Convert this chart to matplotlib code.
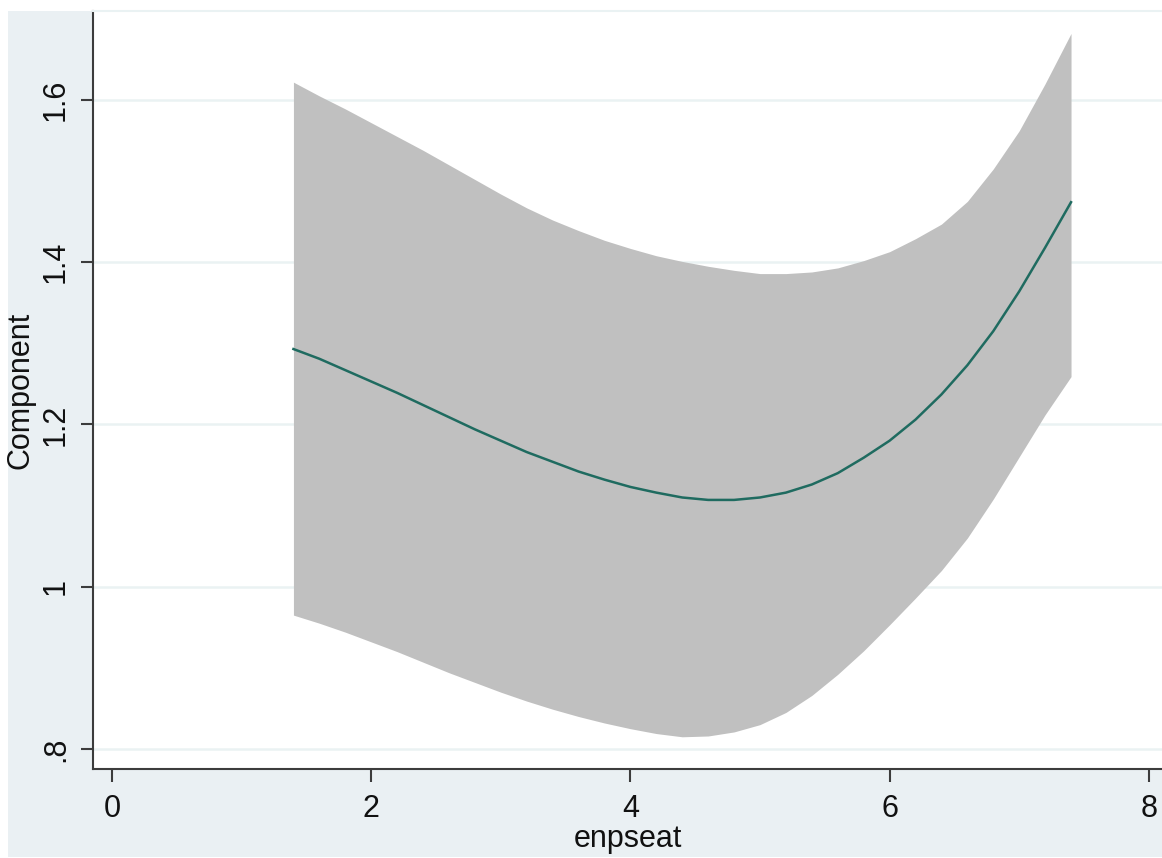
import numpy as np
import matplotlib
matplotlib.use('Agg')
import matplotlib.pyplot as plt
from matplotlib.patches import Rectangle

# values
enpseat = [1.4, 1.6, 1.8, 2.0, 2.2, 2.4, 2.6, 2.8, 3.0, 3.2, 3.4,
           3.6, 3.8, 4.0, 4.2, 4.4, 4.6, 4.8, 5.0, 5.2, 5.4,
           5.6, 5.8, 6.0, 6.2, 6.4, 6.6, 6.8, 7.0, 7.2, 7.4]
component = [1.293, 1.281, 1.267, 1.253, 1.239, 1.224, 1.209, 1.194, 1.180, 1.166, 1.154,
             1.142, 1.132, 1.123, 1.116, 1.110, 1.107, 1.107, 1.110, 1.116, 1.126,
             1.140, 1.159, 1.180, 1.206, 1.237, 1.273, 1.315, 1.364, 1.418, 1.474]
upper = [1.622, 1.605, 1.589, 1.572, 1.555, 1.538, 1.520, 1.502, 1.484, 1.467, 1.452,
         1.439, 1.427, 1.417, 1.408, 1.401, 1.395, 1.390, 1.386, 1.386, 1.388,
         1.393, 1.402, 1.413, 1.429, 1.447, 1.475, 1.515, 1.562, 1.620, 1.682]
lower = [0.965, 0.955, 0.944, 0.932, 0.920, 0.907, 0.894, 0.882, 0.870, 0.859, 0.849,
         0.840, 0.832, 0.825, 0.819, 0.815, 0.816, 0.821, 0.830, 0.845, 0.866,
         0.892, 0.921, 0.953, 0.986, 1.020, 1.060, 1.108, 1.160, 1.212, 1.259]
xticks = [0, 2, 4, 6, 8]
yticks = [0.8, 1.0, 1.2, 1.4, 1.6]
ylabels = ['.8', '1', '1.2', '1.4', '1.6']

plt.rcParams['font.family'] = ['Liberation Sans', 'DejaVu Sans']

W, H = 1162, 858
fig = plt.figure(figsize=(W / 100, H / 100), dpi=100, facecolor='white')
# stata-like light blue graph region, kept behind the axes
fig.patches.append(Rectangle((8 / W, 1 / H), (W - 8) / W, 846 / H,
                             transform=fig.transFigure, facecolor='#EAF0F3',
                             edgecolor='none', zorder=-10))

ax = fig.add_axes([93 / W, 89 / H, (W - 93) / W, 758 / H])
ax.set_zorder(5)
ax.set_facecolor('white')

ax.fill_between(enpseat, lower, upper, color='#C0C0C0', linewidth=0, zorder=2)
ax.plot(enpseat, component, color='#1F6B60', linewidth=1.8, zorder=3)

ax.set_xlim(-0.1466, 8.102)
ax.set_ylim(0.7753, 1.7097)
ax.set_xticks(xticks)
ax.set_yticks(yticks)
ax.set_yticklabels(ylabels, rotation=90, va='center')
ax.grid(axis='y', color='#EAF2F3', linewidth=1.8, zorder=1)
ax.set_axisbelow(True)

for s in ['left', 'bottom']:
    ax.spines[s].set_color('#3C3C3C')
    ax.spines[s].set_linewidth(1.5)
ax.spines['right'].set_visible(False)
ax.spines['top'].set_color('#EAF2F3')
ax.spines['top'].set_linewidth(1.5)

ax.tick_params(axis='both', direction='out', length=9, width=1.5,
               color='#3C3C3C', labelsize=22, labelcolor='#111111')
ax.tick_params(axis='x', pad=9)
ax.tick_params(axis='y', pad=7)

ax.set_xlabel('enpseat', fontsize=22, color='#111111', labelpad=0)
ax.set_ylabel('Component', fontsize=22, color='#111111', labelpad=4)

fig.savefig('out.png', dpi=100, facecolor='white')
